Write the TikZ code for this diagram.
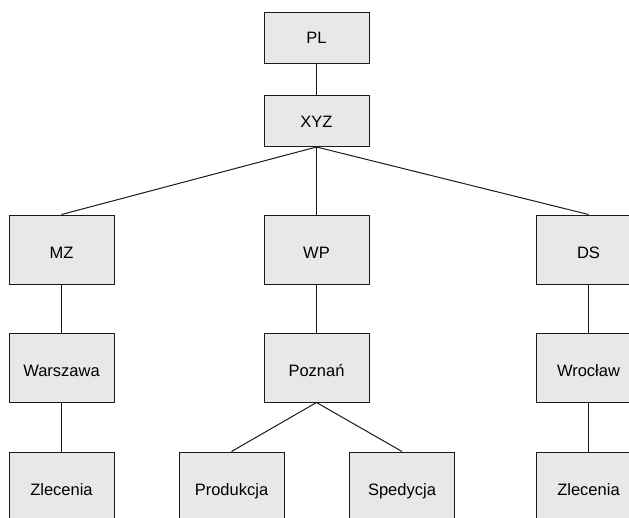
\documentclass[tikz,border=0pt]{standalone}
\usepackage{fontspec}
\setmainfont{Liberation Sans}
\definecolor{boxfill}{HTML}{E8E8E8}
\definecolor{boxline}{HTML}{1A1A1A}
\begin{document}
\begin{tikzpicture}
        [x=1pt,y=-1pt,
         unit/.style={draw=boxline,fill=boxfill,line width=1pt,inner sep=0pt,
           minimum width=105pt,minimum height=69pt,
           text height=18pt,text depth=0pt,
           font=\fontsize{16.5}{20}\selectfont},
         topunit/.style={unit,minimum height=51pt,text height=12pt},
         link/.style={draw=boxline,line width=1pt}]
        \path[use as bounding box,clip] (0,0) rectangle (629,517);

        % top of the tree
        \node[topunit] (PL) at (316.5,37.5) {PL};
        \node[topunit] (XYZ) at (316.5,121) {XYZ};

        % regions
        \node[unit] (MZ) at (61.5,249.5) {MZ};
        \node[unit] (WP) at (316.5,249.5) {WP};
        \node[unit] (DS) at (588.5,249.5) {DS};

        % cities
        \node[unit] (waw) at (61.5,367.5) {Warszawa};
        \node[unit] (poz) at (316.5,367.5) {Pozna\'n};
        \node[unit] (wro) at (588.5,367.5) {Wroc\l{}aw};

        % departments
        \node[unit] (zlecW) at (61.5,486.5) {Zlecenia};
        \node[unit] (prod) at (231.5,486.5) {Produkcja};
        \node[unit] (sped) at (402,486.5) {Spedycja};
        \node[unit] (zlecD) at (588.5,486.5) {Zlecenia};

        \draw[link] (PL) -- (XYZ);
        \draw[link] (XYZ.south) -- (MZ.north);
        \draw[link] (XYZ.south) -- (WP.north);
        \draw[link] (XYZ.south) -- (DS.north);
        \draw[link] (MZ) -- (waw);
        \draw[link] (WP) -- (poz);
        \draw[link] (DS) -- (wro);
        \draw[link] (waw) -- (zlecW);
        \draw[link] (poz.south) -- (prod.north);
        \draw[link] (poz.south) -- (sped.north);
        \draw[link] (wro) -- (zlecD);
      \end{tikzpicture}
\end{document}
